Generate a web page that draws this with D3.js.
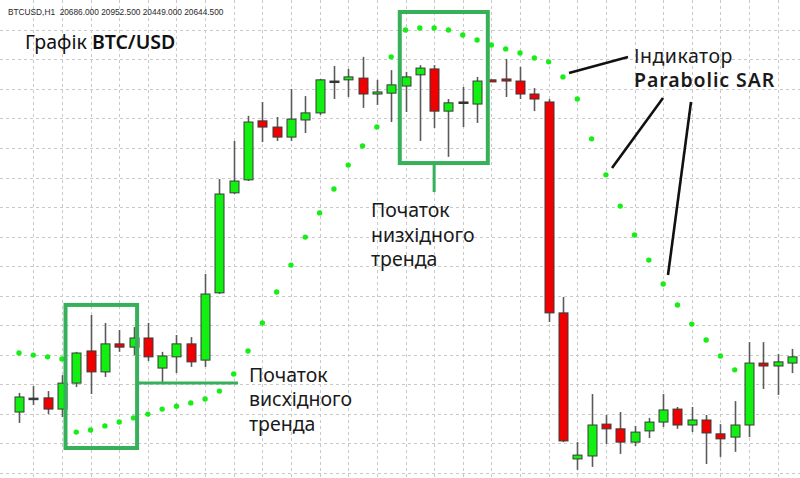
<!DOCTYPE html>
<html>
<head>
<meta charset="utf-8">
<script src="https://cdn.jsdelivr.net/npm/d3@7/dist/d3.min.js"></script>
<style>
  html, body { margin: 0; padding: 0; background: #ffffff; }
  svg { display: block; }
</style>
</head>
<body>
<svg id="chart" width="800" height="478"></svg>
<script>
// ---- Data (BTCUSD, H1) ----
const openP  = [19705,19752,19753,19715,19803,19912,19841,19936,19925,19956,19854,19892,19936,19881,20109,20448,20492,20692,20671,20637,20695,20719,20827,20831,20837,20783,20786,20810,20848,20868,20725,20756,20749,20831,20834,20827,20783,20756,20041,19546,19556,19664,19648,19603,19641,19671,19715,19661,19678,19631,19620,19661,19871,19861,19871];
const highP  = [19770,19793,19776,19830,19909,20034,20007,19983,19993,20007,19909,19966,19959,20173,20495,20624,20709,20756,20705,20800,20776,20834,20878,20868,20909,20831,20864,20858,20881,20881,20766,20807,20841,20831,20902,20875,20803,20766,20095,19603,19766,19695,19705,19658,19685,19766,19722,19722,19695,19664,19742,19942,19942,19902,19919];
const lowP   = [19668,19729,19698,19688,19790,19766,19824,19909,19898,19878,19803,19837,19858,19858,20105,20444,20488,20620,20624,20624,20651,20712,20766,20773,20736,20746,20688,20722,20624,20668,20570,20671,20685,20824,20773,20766,20725,20010,19603,19509,19519,19597,19563,19590,19617,19654,19648,19637,19529,19553,19570,19620,19783,19763,19837];
const closeP = [19756,19752,19715,19803,19905,19841,19936,19925,19956,19892,19895,19936,19875,20105,20444,20488,20688,20671,20637,20698,20719,20831,20827,20841,20783,20790,20814,20841,20871,20725,20753,20756,20827,20824,20827,20783,20766,20041,19607,19559,19661,19648,19603,19637,19671,19712,19661,19678,19634,19614,19661,19871,19861,19875,19892];
// Parabolic SAR values (null = not shown)
const sarP   = [19905,19898,19892,19885,19637,19644,19658,19671,19685,19698,19715,19725,19736,19749,19776,19834,19912,20007,20112,20203,20298,20380,20461,20542,20607,20671,20909,21000,21007,21007,21000,20983,20966,20949,20936,20922,20905,20892,20841,20766,20631,20509,20403,20305,20220,20139,20068,20003,19949,19895,19848,null,null,null,null];
// grid price levels
const gridPrices = d3.range(19500, 21001, 100);
const headerText = "BTCUSD,H1  20686.000 20952.500 20449.000 20644.500";
const title = ["Графік ", "BTC/USD"];
const upTrendLabel = ["Початок", "висхідного", "тренда"];
const downTrendLabel = ["Початок", "низхідного", "тренда"];
const indicatorLabel = ["Індикатор", "Parabolic SAR"];
// highlighted bar ranges (index ranges) and price ranges for the boxes
const upBox = { from: 3.25, to: 8.25, top: 20068, bottom: 19583 };
const downBox = { from: 26.6, to: 32.75, top: 21061, bottom: 20549 };

const svg = d3.select("#chart");
const W = 800, H = 478;
const n = openP.length;

const x = d3.scaleLinear().domain([0, n - 1]).range([19, 792]);
const y = d3.scaleLinear().domain([19500, 21000]).range([472.5, 30]);

// ---- grid ----
const grid = svg.append("g").attr("stroke", "#c9c9c9").attr("stroke-width", 1).attr("stroke-dasharray", "3,3");
grid.selectAll("line.h").data(gridPrices).join("line")
  .attr("x1", 0).attr("x2", W)
  .attr("y1", d => Math.round(y(d)) + 0.5).attr("y2", d => Math.round(y(d)) + 0.5);
const vIdx = d3.range(1, n + 1, 2);
grid.selectAll("line.v").data(vIdx).join("line")
  .attr("y1", 0).attr("y2", H)
  .attr("x1", d => Math.round(x(d)) + 0.5).attr("x2", d => Math.round(x(d)) + 0.5);

// ---- candles ----
const idx = d3.range(n);
const cg = svg.append("g");
cg.selectAll("line.wick").data(idx).join("line")
  .attr("x1", i => Math.round(x(i)) + 0.5).attr("x2", i => Math.round(x(i)) + 0.5)
  .attr("y1", i => y(highP[i])).attr("y2", i => y(lowP[i]))
  .attr("stroke", "#5a5a5a").attr("stroke-width", 1.6);
const bw = 9;
cg.selectAll("rect.body").data(idx).join("rect")
  .attr("x", i => Math.round(x(i)) + 0.5 - bw / 2)
  .attr("width", bw)
  .attr("y", i => Math.min(y(openP[i]), y(closeP[i])))
  .attr("height", i => Math.max(1.5, Math.abs(y(openP[i]) - y(closeP[i]))))
  .attr("fill", i => closeP[i] > openP[i] ? "#11f011" : (closeP[i] < openP[i] ? "#f00000" : "#333"))
  .attr("stroke", i => closeP[i] === openP[i] ? "#333" : "#3a3a3a")
  .attr("stroke-width", 1);

// ---- SAR dots ----
svg.append("g").selectAll("circle").data(idx.filter(i => sarP[i] !== null)).join("circle")
  .attr("cx", i => x(i)).attr("cy", i => y(sarP[i])).attr("r", 2.7)
  .attr("fill", "#17ee17");

// ---- highlight boxes ----
const boxColor = "#37b05a";
function box(b) {
  svg.append("rect")
    .attr("x", x(b.from)).attr("y", y(b.top))
    .attr("width", x(b.to) - x(b.from)).attr("height", y(b.bottom) - y(b.top))
    .attr("fill", "none").attr("stroke", boxColor).attr("stroke-width", 4);
}
box(upBox);
box(downBox);
// connector lines
svg.append("line").attr("x1", x(upBox.to)).attr("x2", 238)
  .attr("y1", y(19803)).attr("y2", y(19803))
  .attr("stroke", boxColor).attr("stroke-width", 3);
svg.append("line").attr("x1", x(29)).attr("x2", x(29))
  .attr("y1", y(downBox.bottom)).attr("y2", 192)
  .attr("stroke", boxColor).attr("stroke-width", 3);

// ---- indicator pointer lines ----
const pointers = [
  [569, 73, 628, 57],
  [612, 168, 663, 98],
  [668, 275, 691, 102]
];
svg.append("g").selectAll("line").data(pointers).join("line")
  .attr("x1", d => d[0]).attr("y1", d => d[1]).attr("x2", d => d[2]).attr("y2", d => d[3])
  .attr("stroke", "#111").attr("stroke-width", 2.6);

// ---- texts ----
const font = "'Noto Sans', 'Open Sans', sans-serif";
svg.append("text").attr("x", 8).attr("y", 15)
  .attr("font-family", "'Liberation Sans', Arial, sans-serif").attr("font-size", 8.3)
  .attr("fill", "#2a2a2a").attr("xml:space", "preserve").style("white-space", "pre")
  .text(headerText);

const t = svg.append("text").attr("x", 25).attr("y", 49)
  .attr("font-family", font).attr("font-size", 19.5).attr("fill", "#111");
t.append("tspan").text(title[0]);
t.append("tspan").attr("font-weight", 600).text(title[1]);

function block(lines, x0, y0, lh, size, weights, spacing) {
  const g = svg.append("text").attr("font-family", font).attr("font-size", size).attr("fill", "#1a1a1a");
  lines.forEach((s, k) => {
    g.append("tspan").attr("x", x0).attr("y", y0 + k * lh)
      .attr("font-weight", weights ? weights[k] : 400)
      .attr("letter-spacing", spacing ? spacing[k] : 0).text(s);
  });
}
block(upTrendLabel, 249, 381.5, 24.5, 19.5);
block(downTrendLabel, 371, 217, 24.5, 19.5);
block(indicatorLabel, 634, 62.5, 24.5, 19.5, [400, 600], [0.5, 0.9]);
</script>
</body>
</html>
